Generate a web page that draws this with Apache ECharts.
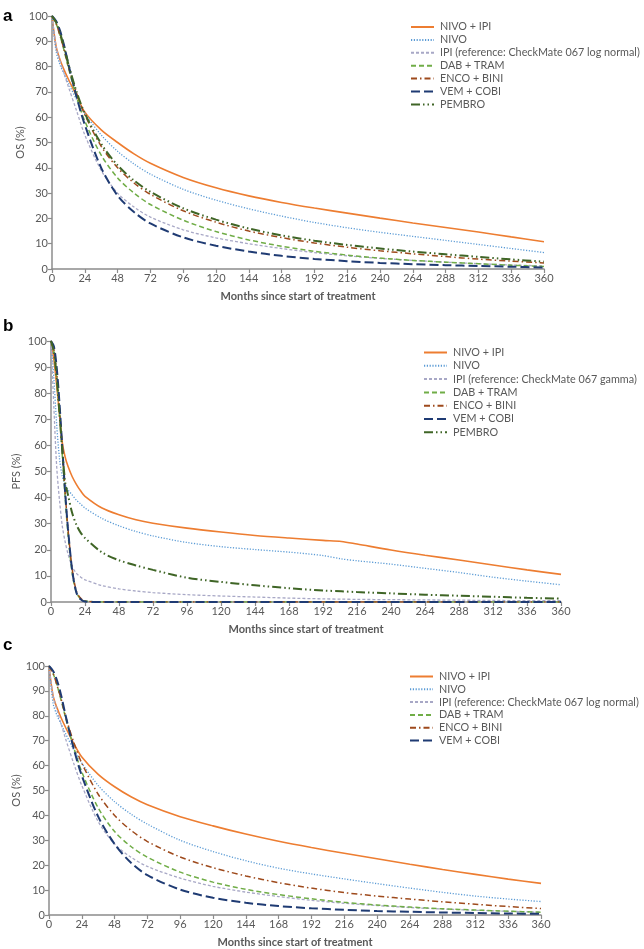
<!DOCTYPE html>
<html>
<head>
<meta charset="utf-8">
<script src="https://cdn.jsdelivr.net/npm/echarts@6/dist/echarts.min.js"></script>
<style>
html,body{margin:0;padding:0;background:#fff;}
#chart{width:644px;height:949px;}
</style>
</head>
<body>
<div id="chart"></div>
<script>
// ---------- DATA ----------
const xTicks = [0, 24, 48, 72, 96, 120, 144, 168, 192, 216, 240, 264, 288, 312, 336, 360];
const yTicks = [0, 10, 20, 30, 40, 50, 60, 70, 80, 90, 100];

// Panel a: OS (IPI reference: CheckMate 067 log normal), with PEMBRO
const monthsA = [0, 3, 6, 9, 12, 18, 24, 36, 48, 60, 72, 96, 120, 144, 168, 192, 216, 240, 264, 288, 312, 336, 360];
const a_nivoIpi = [100, 88, 82.5, 78.5, 75, 68.5, 62, 55, 50, 45.5, 41.8, 36.2, 32.1, 28.9, 26.3, 24.1, 22.1, 20.1, 18.2, 16.4, 14.6, 12.7, 10.8];
const a_nivo    = [100, 86, 80.5, 77, 73.5, 67, 61.5, 53, 46.5, 41.5, 37.5, 31.5, 27.2, 23.8, 20.9, 18.4, 16.3, 14.5, 12.9, 11.3, 9.7, 8.1, 6.5];
const a_ipi     = [100, 88, 82, 77, 72, 62.5, 53, 39, 30, 24.5, 20.5, 15.5, 12.3, 10, 8.1, 6.5, 5.2, 4.2, 3.4, 2.7, 2.1, 1.6, 1.2];
const a_dab     = [100, 97, 92, 86, 79.5, 68, 58.5, 45, 36, 30, 25.5, 19.3, 14.8, 11.5, 9, 7, 5.5, 4.3, 3.4, 2.7, 2.1, 1.5, 1.0];
const a_enco    = [100, 97, 92, 86.5, 80, 69.5, 61, 48.5, 40, 34, 29.5, 23, 18.5, 15, 12.4, 10.3, 8.6, 7.2, 6, 4.9, 3.9, 3.1, 2.4];
const a_vem     = [100, 98, 94, 88, 81, 68, 57, 40, 29, 22.5, 18, 12.5, 9.2, 6.9, 5.2, 4, 3.1, 2.4, 1.9, 1.5, 1.2, 0.9, 0.6];
const a_pembro  = [100, 97.5, 93, 87.5, 81, 70, 61.5, 49.5, 41, 35, 30.5, 24, 19.5, 16, 13.3, 11.2, 9.5, 8.1, 6.9, 5.8, 4.8, 3.8, 2.9];

// Panel b: PFS (IPI reference: CheckMate 067 gamma), with PEMBRO
const monthsB = [0, 2, 4, 6, 8, 10, 12, 15, 18, 21, 24, 36, 48, 60, 72, 96, 120, 144, 168, 192, 205, 216, 240, 264, 288, 312, 336, 360];
const b_nivoIpi = [100, 93, 83, 72, 61, 55.5, 52, 48, 45, 42.5, 40.5, 36, 33.4, 31.5, 30.2, 28.3, 26.8, 25.5, 24.5, 23.6, 23.2, 22.2, 19.9, 17.9, 16.1, 14.2, 12.3, 10.6];
const b_nivo    = [100, 86, 68, 55, 48, 45, 43, 41, 39, 37.5, 36, 32, 29.2, 27, 25.3, 22.8, 21.2, 20.1, 19.1, 17.8, 16.5, 15.8, 14.5, 12.9, 11.3, 9.5, 8, 6.6];
const b_ipi     = [100, 75, 52, 39, 29, 23, 18.5, 13.5, 11, 9.5, 8.5, 6.3, 5.0, 4.2, 3.6, 2.8, 2.3, 1.9, 1.5, 1.2, 1.1, 1.0, 0.9, 0.8, 0.7, 0.6, 0.5, 0.5];
const b_dab     = [100, 96, 86, 72, 56, 40, 26, 11, 3.5, 1.2, 0.4, 0, 0, 0, 0, 0, 0, 0, 0, 0, 0, 0, 0, 0, 0, 0, 0, 0];
const b_enco    = [100, 97, 88, 74, 58, 42, 28, 12.5, 4, 1.4, 0.4, 0, 0, 0, 0, 0, 0, 0, 0, 0, 0, 0, 0, 0, 0, 0, 0, 0];
const b_vem     = [100, 98, 90, 76, 59, 42, 28, 12, 3.5, 1, 0.2, 0, 0, 0, 0, 0, 0, 0, 0, 0, 0, 0, 0, 0, 0, 0, 0, 0];
const b_pembro  = [100, 96, 86, 72, 58, 46, 41, 34, 29.5, 26.5, 24.5, 19, 16, 14, 12.3, 9.3, 7.7, 6.4, 5.3, 4.4, 4.1, 3.8, 3.3, 2.8, 2.4, 2.0, 1.6, 1.3];

// Panel c: OS (IPI reference: CheckMate 067 log normal), no PEMBRO
const monthsC = [0, 3, 6, 9, 12, 18, 24, 36, 48, 60, 72, 96, 120, 144, 168, 192, 216, 240, 264, 288, 312, 336, 360];
const c_nivoIpi = [100, 88, 83, 79, 75.5, 69, 63.5, 56.5, 51.5, 47.5, 44.3, 39.5, 35.8, 32.5, 29.6, 27.1, 24.8, 22.6, 20.4, 18.3, 16.3, 14.4, 12.7];
const c_nivo    = [100, 85, 80, 76.5, 73, 66.5, 61, 52, 45.5, 40.5, 36.5, 30, 25.5, 21.8, 18.8, 16.5, 14.5, 12.6, 10.8, 9.1, 7.6, 6.4, 5.4];
const c_ipi     = [100, 88, 82, 76.5, 71, 61, 52, 37.5, 28.5, 23.2, 19.5, 14.8, 11.5, 9.2, 7.4, 5.9, 4.7, 3.8, 3, 2.4, 1.9, 1.5, 1.1];
const c_dab     = [100, 97, 92, 86, 79.5, 67.5, 57.5, 43, 33.5, 27.5, 23.2, 17.2, 13.2, 10.3, 8.2, 6.5, 5.1, 4.0, 3.2, 2.5, 2.0, 1.5, 1.1];
const c_enco    = [100, 97, 92, 86.5, 80, 69.5, 61, 48.5, 40, 34, 29.5, 23.3, 19, 15.7, 13, 10.8, 9, 7.6, 6.4, 5.3, 4.3, 3.4, 2.6];
const c_vem     = [100, 98, 94, 88, 80.5, 67, 56, 39.5, 28.5, 21, 16, 10.2, 6.9, 4.9, 3.6, 2.7, 2.1, 1.6, 1.3, 1.0, 0.8, 0.6, 0.5];

const nameNivoIpi = 'NIVO + IPI';
const nameNivo = 'NIVO';
const nameIpiLN = 'IPI (reference: CheckMate 067 log normal)';
const nameIpiG = 'IPI (reference: CheckMate 067 gamma)';
const nameDab = 'DAB + TRAM';
const nameEnco = 'ENCO + BINI';
const nameVem = 'VEM + COBI';
const namePembro = 'PEMBRO';

// ---------- STYLES ----------
const FONT = 'Lato, "Liberation Sans", sans-serif';
const styles = {
  nivoIpi: {color: '#ED7D31', width: 1.6, type: 'solid'},
  nivo:    {color: '#5B9BD5', width: 1.3, type: [1.2, 1.6]},
  ipi:     {color: '#A8A8C6', width: 1.3, type: [3, 2]},
  dab:     {color: '#70AD47', width: 1.5, type: [5, 3]},
  enco:    {color: '#9E4A1C', width: 1.5, type: [6, 3, 1.5, 3]},
  vem:     {color: '#1F3B73', width: 2, type: [9, 4]},
  pembro:  {color: '#3F6526', width: 2, type: [9, 3, 1.5, 3, 1.5, 3]}
};

function pairs(xs, ys) { return xs.map((x, i) => [x, ys[i]]); }
function mk(name, xs, ys, st, gi) {
  return {
    name: name, type: 'line', xAxisIndex: gi, yAxisIndex: gi,
    data: pairs(xs, ys), smooth: 0.3,
    symbol: 'none', showSymbol: false,
    lineStyle: {color: st.color, width: st.width, type: st.type},
    itemStyle: {color: st.color},
    z: 2, animation: false
  };
}

const grids = [
  {left: 52, top: 16, width: 492, height: 253},
  {left: 51, top: 341, width: 510, height: 261},
  {left: 49, top: 666, width: 492, height: 251}
];
const yNames = ['OS (%)', 'PFS (%)', 'OS (%)'];
const yGaps = [26, 29, 27];

const axisColor = '#8c8c8c';
const labelColor = '#595959';

const xAxes = grids.map((g, i) => ({
  type: 'value', gridIndex: i, min: 0, max: 360, interval: 24,
  name: 'Months since start of treatment', nameLocation: 'middle', nameGap: 22,
  nameMoveOverlap: false,
  nameTextStyle: {fontFamily: FONT, fontSize: 11, fontWeight: 'bold', color: labelColor},
  axisLine: {show: true, lineStyle: {color: axisColor, width: 1.5}},
  axisTick: {show: true, length: 4, lineStyle: {color: axisColor, width: 1.2}},
  axisLabel: {fontFamily: FONT, fontSize: 11, color: labelColor, margin: 4},
  splitLine: {show: false}
}));
const yAxes = grids.map((g, i) => ({
  type: 'value', gridIndex: i, min: 0, max: 100, interval: 10,
  name: yNames[i], nameLocation: 'middle', nameGap: yGaps[i],
  nameMoveOverlap: false,
  nameTextStyle: {fontFamily: FONT, fontSize: 11, color: labelColor},
  axisLine: {show: true, lineStyle: {color: axisColor, width: 1.5}},
  axisTick: {show: true, length: 4, lineStyle: {color: axisColor, width: 1.2}},
  axisLabel: {fontFamily: FONT, fontSize: 11, color: labelColor, margin: 4},
  splitLine: {show: false}
}));

const series = [
  mk(nameNivoIpi, monthsA, a_nivoIpi, styles.nivoIpi, 0),
  mk(nameNivo, monthsA, a_nivo, styles.nivo, 0),
  mk(nameIpiLN, monthsA, a_ipi, styles.ipi, 0),
  mk(nameDab, monthsA, a_dab, styles.dab, 0),
  mk(nameEnco, monthsA, a_enco, styles.enco, 0),
  mk(nameVem, monthsA, a_vem, styles.vem, 0),
  mk(namePembro, monthsA, a_pembro, styles.pembro, 0),

  mk(nameNivoIpi, monthsB, b_nivoIpi, styles.nivoIpi, 1),
  mk(nameNivo, monthsB, b_nivo, styles.nivo, 1),
  mk(nameIpiG, monthsB, b_ipi, styles.ipi, 1),
  mk(nameDab, monthsB, b_dab, styles.dab, 1),
  mk(nameEnco, monthsB, b_enco, styles.enco, 1),
  mk(nameVem, monthsB, b_vem, styles.vem, 1),
  mk(namePembro, monthsB, b_pembro, styles.pembro, 1),

  mk(nameNivoIpi, monthsC, c_nivoIpi, styles.nivoIpi, 2),
  mk(nameNivo, monthsC, c_nivo, styles.nivo, 2),
  mk(nameIpiLN, monthsC, c_ipi, styles.ipi, 2),
  mk(nameDab, monthsC, c_dab, styles.dab, 2),
  mk(nameEnco, monthsC, c_enco, styles.enco, 2),
  mk(nameVem, monthsC, c_vem, styles.vem, 2)
];

function legendAt(left, top, names, gap) {
  return {
    orient: 'vertical', left: left, top: top, data: names,
    itemWidth: 23, itemHeight: 12, itemGap: gap,
    itemStyle: {opacity: 0, borderWidth: 0},
    textStyle: {fontFamily: FONT, fontSize: 10.8, color: labelColor, lineHeight: 12, padding: [0, 0, 0, 1]},
    selectedMode: false, padding: 0
  };
}

const option = {
  backgroundColor: '#ffffff',
  animation: false,
  grid: grids,
  xAxis: xAxes,
  yAxis: yAxes,
  legend: [
    legendAt(410, 21, [nameNivoIpi, nameNivo, nameIpiLN, nameDab, nameEnco, nameVem, namePembro], 0.9),
    legendAt(423, 346.5, [nameNivoIpi, nameNivo, nameIpiG, nameDab, nameEnco, nameVem, namePembro], 1.3),
    legendAt(409, 670.5, [nameNivoIpi, nameNivo, nameIpiLN, nameDab, nameEnco, nameVem], 0.8)
  ],
  graphic: [
    {type: 'text', left: 3, top: 8, style: {text: 'a', font: 'bold 17px "Liberation Sans", Arial, sans-serif', fill: '#000'}},
    {type: 'text', left: 3, top: 318, style: {text: 'b', font: 'bold 17px "Liberation Sans", Arial, sans-serif', fill: '#000'}},
    {type: 'text', left: 3, top: 637, style: {text: 'c', font: 'bold 17px "Liberation Sans", Arial, sans-serif', fill: '#000'}}
  ],
  series: series
};

const chart = echarts.init(document.getElementById('chart'), null, {renderer: 'canvas'});
chart.setOption(option);
</script>
</body>
</html>
